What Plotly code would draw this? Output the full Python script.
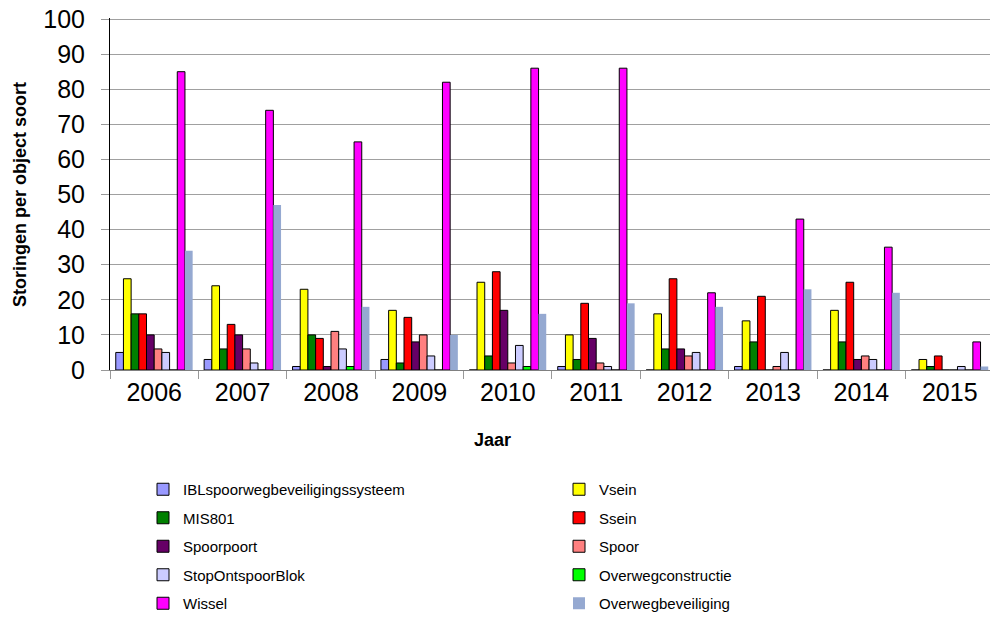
import plotly.graph_objects as go

years = ['2006', '2007', '2008', '2009', '2010', '2011', '2012', '2013', '2014', '2015']

ibl = [5, 3, 1, 3, 0, 1, 0, 1, 0, 0]
vsein = [26, 24, 23, 17, 25, 10, 16, 14, 17, 3]
mis801 = [16, 6, 10, 2, 4, 3, 6, 8, 8, 1]
ssein = [16, 13, 9, 15, 28, 19, 26, 21, 25, 4]
spoorpoort = [10, 10, 1, 8, 17, 9, 6, 0, 3, 0]
spoor = [6, 6, 11, 10, 2, 2, 4, 1, 4, 0]
stopontspoorblok = [5, 2, 6, 4, 7, 1, 5, 5, 3, 1]
overwegconstructie = [0, 0, 1, 0, 1, 0, 0, 0, 0, 0]
wissel = [85, 74, 65, 82, 86, 86, 22, 43, 35, 8]
overwegbeveiliging = [34, 47, 18, 10, 16, 19, 18, 23, 22, 1]

y_ticks = [0, 10, 20, 30, 40, 50, 60, 70, 80, 90, 100]

series = [
    ('IBLspoorwegbeveiligingssysteem', ibl, '#9999FF', 'legend'),
    ('Vsein', vsein, '#FFFF00', 'legend2'),
    ('MIS801', mis801, '#008000', 'legend'),
    ('Ssein', ssein, '#FF0000', 'legend2'),
    ('Spoorpoort', spoorpoort, '#660066', 'legend'),
    ('Spoor', spoor, '#FF8080', 'legend2'),
    ('StopOntspoorBlok', stopontspoorblok, '#CCCCFF', 'legend'),
    ('Overwegconstructie', overwegconstructie, '#00FF00', 'legend2'),
    ('Wissel', wissel, '#FF00FF', 'legend'),
    ('Overwegbeveiliging', overwegbeveiliging, '#95A9D1', 'legend2'),
]

FONT = 'Liberation Sans, Arial, sans-serif'

fig = go.Figure()
for name, vals, color, leg in series:
    no_line = name == 'Overwegbeveiliging'
    fig.add_trace(go.Bar(
        x=years, y=vals, name=name,
        marker=dict(color=color,
                    line=dict(color='#000000' if not no_line else color,
                              width=0 if no_line else 1)),
        legend=leg, legendgroup=name,
    ))

legend_common = dict(
    font=dict(family=FONT, size=15, color='black'),
    bgcolor='rgba(0,0,0,0)', orientation='v',
    tracegroupgap=6, yanchor='top', xanchor='left',
    itemclick=False, itemdoubleclick=False,
)

# plot area in screen px: x 110..990, y 18..370 (page body margin removed)
fig.update_layout(
    width=990, height=617,
    margin=dict(l=110, r=0, t=18, b=247, autoexpand=False),
    paper_bgcolor='white', plot_bgcolor='white',
    barmode='group', bargap=0.13, bargroupgap=0,
    font=dict(family=FONT, color='black'),
    showlegend=True,
    legend=dict(x=(143 - 110) / 880, y=-(473 - 370) / 352, **legend_common),
    legend2=dict(x=(559 - 110) / 880, y=-(473 - 370) / 352, **legend_common),
    xaxis=dict(
        type='category', range=[-0.5, 9.455],
        tickson='boundaries', ticks='outside', ticklen=8, tickcolor='#999999',
        showline=True, linecolor='#808080', linewidth=1,
        showgrid=False, tickfont=dict(family=FONT, size=25, color='black'),
    ),
    yaxis=dict(
        range=[0, 100.3], tickmode='array', tickvals=y_ticks,
        ticktext=[str(v) for v in y_ticks],
        showgrid=True, gridcolor='#A0A0A0', gridwidth=1,
        showline=True, linecolor='#000000', linewidth=1,
        ticks='outside', ticklen=8, tickcolor='#999999',
        zeroline=False, ticklabelstandoff=11, ticklabeloverflow='allow',
        tickfont=dict(family=FONT, size=25, color='black'),
    ),
    annotations=[
        dict(text='<b>Jaar</b>', x=(492 - 110) / 880, y=-(440 - 370) / 352,
             xref='paper', yref='paper', showarrow=False,
             xanchor='center', yanchor='middle',
             font=dict(family=FONT, size=18, color='black')),
        dict(text='<b>Storingen per object soort</b>', x=(20 - 110) / 880,
             y=(370 - 195) / 352, xref='paper', yref='paper', showarrow=False,
             textangle=-90, xanchor='center', yanchor='middle',
             font=dict(family=FONT, size=18, color='black')),
    ],
)

fig.write_html('out.html',
               config={'displayModeBar': False},
               post_script="document.body.style.margin='0';document.body.style.overflow='hidden';")
